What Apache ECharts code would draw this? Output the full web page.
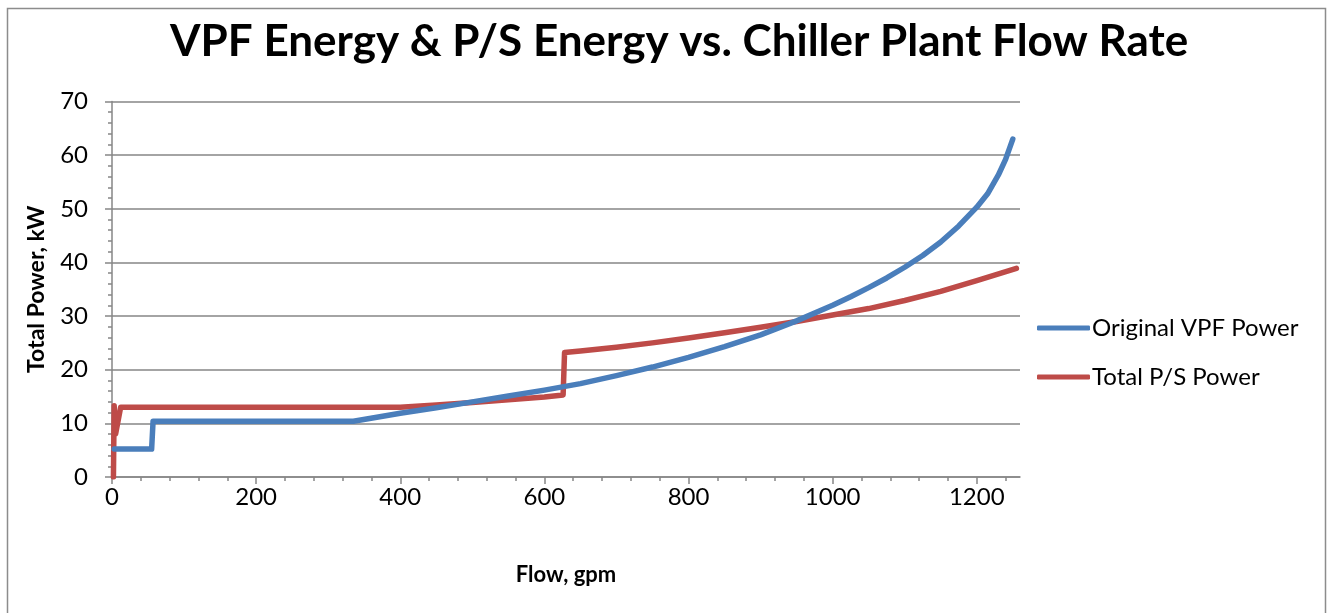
<!DOCTYPE html>
<html>
<head>
<meta charset="utf-8">
<title>VPF vs P/S</title>
<script src="https://cdn.jsdelivr.net/npm/echarts@6/dist/echarts.min.js"></script>
<style>
  html, body { margin: 0; padding: 0; background: #fff; }
  #chart { width: 1333px; height: 613px; }
</style>
</head>
<body>
<div id="chart"></div>
<script>
// tick labels
const xTicks = [0, 200, 400, 600, 800, 1000, 1200];
const xMinor = [40, 80, 120, 160, 240, 280, 320, 360, 440, 480, 520, 560, 640, 680, 720, 760,
  840, 880, 920, 960, 1040, 1080, 1120, 1160, 1240];

// Original VPF Power
const vpfFlow = [3, 55, 57, 335, 400, 450, 500, 550, 600, 650, 700, 750, 800, 850, 900, 950,
  1000, 1025, 1050, 1075, 1100, 1125, 1150, 1175, 1200, 1215, 1230, 1240, 1250];
const vpfPower = [5.2, 5.2, 10.4, 10.4, 11.9, 12.9, 14.0, 15.1, 16.2, 17.4, 18.9, 20.5, 22.3,
  24.3, 26.5, 29.1, 32.0, 33.6, 35.3, 37.1, 39.1, 41.3, 43.8, 46.8, 50.3, 52.8, 56.3, 59.2, 63.0];

// Total P/S Power
const psFlow = [2, 3, 5, 12, 400, 450, 500, 550, 600, 626, 628, 650, 700, 750, 800, 850, 900,
  950, 1000, 1050, 1100, 1150, 1200, 1255];
const psPower = [0, 13.3, 8, 13.0, 13.0, 13.4, 13.9, 14.4, 14.9, 15.3, 23.2, 23.5, 24.2, 25.0,
  25.9, 26.9, 27.9, 29.0, 30.2, 31.4, 32.9, 34.6, 36.6, 38.9];

const zip = (xs, ys) => xs.map((x, i) => [x, ys[i]]);
const axisGray = '#868686';
const font = 'Lato';

let chart = echarts.init(document.getElementById('chart'));
let options = {
  backgroundColor: '#fff',
  animation: false,
  textStyle: { fontFamily: font },
  title: {
    text: 'VPF Energy & P/S Energy vs. Chiller Plant Flow Rate',
    left: 165,
    top: 15,
    textStyle: { fontFamily: font, fontSize: 44, fontWeight: 'bold', color: '#000' }
  },
  graphic: [{
    type: 'rect',
    shape: { x: 7.5, y: 8.5, width: 1318, height: 620 },
    style: { fill: 'none', stroke: '#8c8c8c', lineWidth: 1.5 },
    silent: true
  }],
  legend: {
    orient: 'vertical',
    left: 1032,
    top: 311,
    itemWidth: 53,
    itemHeight: 5,
    itemGap: 25,
    icon: 'roundRect',
    textStyle: { fontFamily: font, fontSize: 24, color: '#000', padding: [0, 0, 0, -3] },
    data: ['Original VPF Power', 'Total P/S Power']
  },
  grid: { left: 112, right: 313, top: 101.5, bottom: 136 },
  xAxis: [{
    type: 'value',
    min: 0,
    max: 1260,
    name: 'Flow, gpm',
    nameLocation: 'middle',
    nameGap: 87,
    nameTextStyle: { fontFamily: font, fontSize: 22, fontWeight: 'bold', color: '#000' },
    axisLine: { show: true, lineStyle: { color: axisGray, width: 1.5 } },
    axisTick: { show: true, customValues: xTicks, length: 7, lineStyle: { color: axisGray, width: 1.5 } },
    axisLabel: {
      customValues: xTicks, margin: 8, fontFamily: font, fontSize: 24, color: '#000',
      formatter: v => String(v)
    },
    splitLine: { show: false }
  }, {
    type: 'value',
    min: 0,
    max: 1260,
    position: 'bottom',
    axisLine: { show: false },
    axisTick: { show: true, customValues: xMinor, length: 4, lineStyle: { color: axisGray, width: 1.5 } },
    axisLabel: { show: false },
    splitLine: { show: false }
  }],
  yAxis: {
    type: 'value',
    min: 0,
    max: 70,
    interval: 10,
    name: 'Total Power, kW',
    nameLocation: 'middle',
    nameGap: 64,
    nameTextStyle: { fontFamily: font, fontSize: 23, fontWeight: 'bold', color: '#000' },
    axisLine: { show: true, lineStyle: { color: axisGray, width: 1.5 } },
    axisTick: { show: true, length: 7, lineStyle: { color: axisGray, width: 1.5 } },
    minorTick: { show: true, splitNumber: 5, length: 4, lineStyle: { color: axisGray, width: 1.5 } },
    axisLabel: { margin: 24, fontFamily: font, fontSize: 24, color: '#000' },
    splitLine: { show: true, lineStyle: { color: axisGray, width: 1.5 } }
  },
  series: [{
    name: 'Original VPF Power',
    type: 'line',
    data: zip(vpfFlow, vpfPower),
    showSymbol: false,
    symbol: 'none',
    color: '#4a7ebb',
    lineStyle: { width: 5.5, cap: 'round', join: 'round' },
    z: 3
  }, {
    name: 'Total P/S Power',
    type: 'line',
    data: zip(psFlow, psPower),
    showSymbol: false,
    symbol: 'none',
    color: '#be4b48',
    lineStyle: { width: 5.5, cap: 'round', join: 'round' },
    z: 2
  }]
};
chart.setOption(options);
</script>
</body>
</html>
